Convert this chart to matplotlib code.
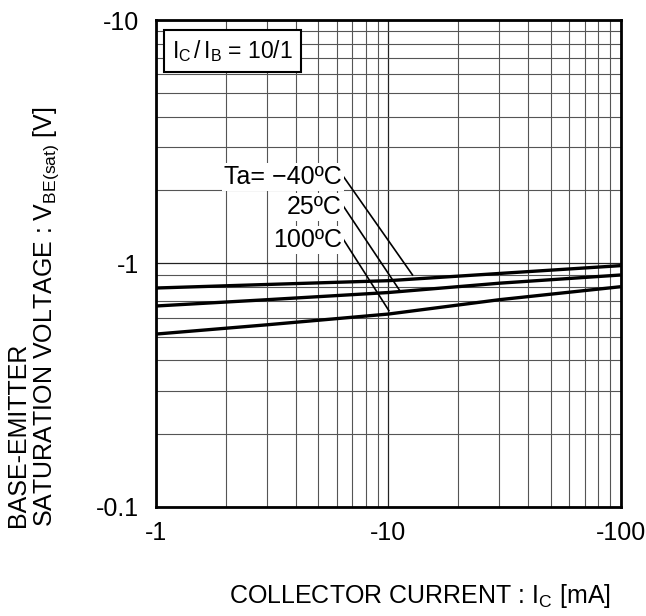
import matplotlib
matplotlib.use("Agg")
import matplotlib.pyplot as plt
from matplotlib.ticker import FixedLocator, LogLocator, NullFormatter

plt.rcParams['font.family'] = ['Liberation Sans', 'DejaVu Sans']
plt.rcParams['mathtext.fontset'] = 'custom'
plt.rcParams['mathtext.rm'] = 'Liberation Sans'
plt.rcParams['mathtext.it'] = 'Liberation Sans'

# Données (courant en mA, tension en V, valeurs absolues)
ic = [1, 3, 10, 30, 100]
vbe_m40 = [0.793, 0.82, 0.85, 0.91, 0.98]
vbe_25 = [0.669, 0.71, 0.76, 0.83, 0.897]
vbe_100 = [0.513, 0.56, 0.62, 0.71, 0.803]

# Étiquettes et lignes de rappel
labels = ["Ta= \u221240\u00baC", "25\u00baC", "100\u00baC"]
label_x = [6.3, 6.3, 6.3]
label_y = [2.265, 1.71, 1.249]
lead_end_x = [12.7, 11.2, 10.05]
lead_end_y = [0.897, 0.773, 0.64]

x_ticks = [1, 10, 100]
x_ticklabels = ["-1", "-10", "-100"]
y_ticks = [0.1, 1, 10]
y_ticklabels = ["-0.1", "-1", "-10"]

fig = plt.figure(figsize=(6.46, 6.16), dpi=100)
ax = fig.add_axes([0.2415, 0.177, 0.7195, 0.7905])
ax.set_xscale('log')
ax.set_yscale('log')
ax.set_xlim(1, 100)
ax.set_ylim(0.1, 10)

# Grille
ax.xaxis.set_major_locator(FixedLocator(x_ticks))
ax.yaxis.set_major_locator(FixedLocator(y_ticks))
ax.xaxis.set_minor_locator(LogLocator(base=10, subs=range(2, 10)))
ax.yaxis.set_minor_locator(LogLocator(base=10, subs=range(2, 10)))
ax.xaxis.set_minor_formatter(NullFormatter())
ax.yaxis.set_minor_formatter(NullFormatter())
ax.grid(True, which='major', color='#222222', linewidth=0.9)
ax.grid(True, which='minor', color='#555555', linewidth=0.8)
ax.set_axisbelow(True)

ax.set_xticklabels(x_ticklabels)
ax.set_yticklabels(y_ticklabels)
ax.tick_params(which='both', length=0, labelsize=18)
ax.tick_params(axis='x', pad=10)
ax.tick_params(axis='y', pad=12)

for s in ax.spines.values():
    s.set_linewidth(2)

# Courbes
for v in (vbe_m40, vbe_25, vbe_100):
    ax.plot(ic, v, color='black', linewidth=2.4, solid_capstyle='butt')

# Étiquettes de température
for lab, lx, ly, ex, ey in zip(labels, label_x, label_y, lead_end_x, lead_end_y):
    ax.text(lx, ly, lab, ha='right', va='center', fontsize=18,
            bbox=dict(facecolor='white', edgecolor='none', pad=1.5))
    ax.plot([lx * 1.02, ex], [ly, ey], color='black', linewidth=1.2)

# Boîte de condition
ax.text(0.035, 0.963, "$\\mathregular{I_C\\,/\\,I_B}$ = 10/1", transform=ax.transAxes,
        ha='left', va='top', fontsize=16.5,
        bbox=dict(facecolor='white', edgecolor='black', linewidth=1.5, pad=6))

fig.text(0.65, 0.033, "COLLECTOR CURRENT : $\\mathregular{I_C}$ [mA]",
         ha='center', va='center', fontsize=18)
fig.text(0.052, 0.145, "BASE-EMITTER\nSATURATION VOLTAGE : $\\mathregular{V_{BE(sat)}}$ [V]",
         rotation=90, ha='center', va='bottom', multialignment='left',
         fontsize=18, linespacing=1.1)

fig.savefig("out.png", dpi=100)
